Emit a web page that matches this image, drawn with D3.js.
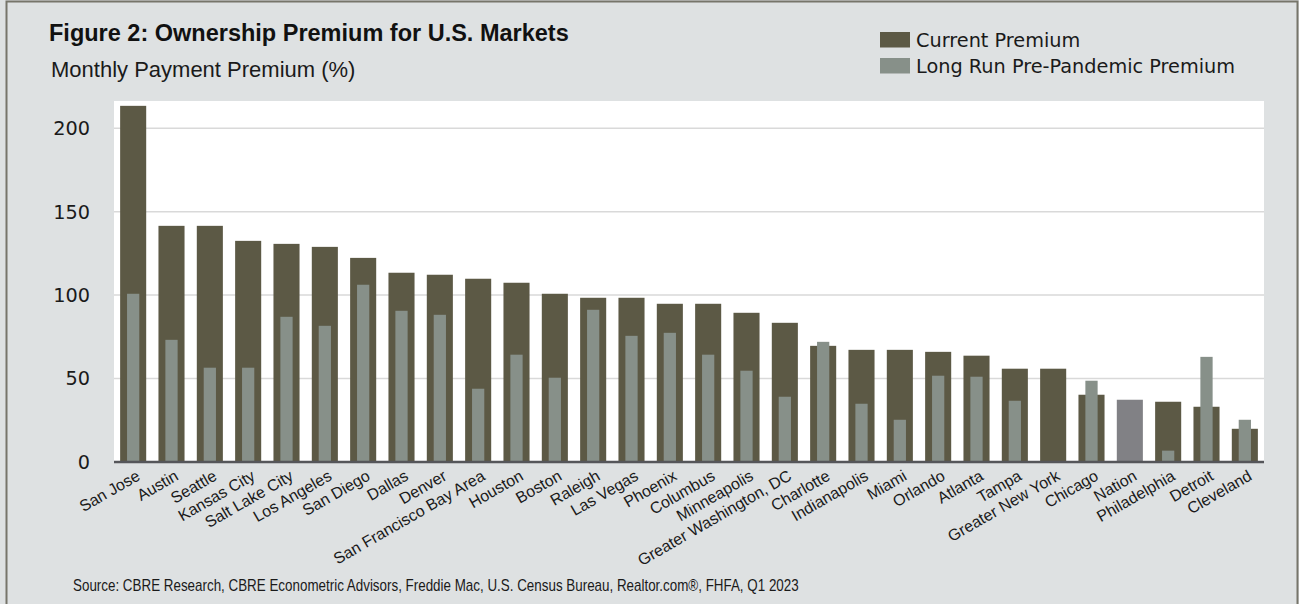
<!DOCTYPE html>
<html>
<head>
<meta charset="utf-8">
<script src="https://cdnjs.cloudflare.com/ajax/libs/d3/7.8.5/d3.min.js"></script>
<style>
  html, body { margin: 0; padding: 0; background: #dee1e2; }
  svg { display: block; }
</style>
</head>
<body>
<div id="chart"></div>
<script>
(function() {
  var markets = ["San Jose", "Austin", "Seattle", "Kansas City", "Salt Lake City", "Los Angeles", "San Diego",
    "Dallas", "Denver", "San Francisco Bay Area", "Houston", "Boston", "Raleigh", "Las Vegas", "Phoenix",
    "Columbus", "Minneapolis", "Greater Washington, DC", "Charlotte", "Indianapolis", "Miami", "Orlando",
    "Atlanta", "Tampa", "Greater New York", "Chicago", "Nation", "Philadelphia", "Detroit", "Cleveland"];
  var currentPremium = [213.4, 141.5, 141.5, 132.5, 130.7, 128.9, 122.3, 113.4, 112.2, 109.8, 107.4, 100.8,
    98.4, 98.4, 94.8, 94.8, 89.4, 83.4, 69.6, 67.2, 67.2, 66.0, 63.7, 55.9, 55.9, 40.3, 37.3, 36.1, 33.1, 19.9];
  var longRunPremium = [100.8, 73.2, 56.5, 56.5, 87.0, 81.6, 106.2, 90.6, 88.2, 43.9, 64.3, 50.5,
    91.2, 75.6, 77.4, 64.3, 54.7, 39.1, 72.0, 34.9, 25.3, 51.7, 51.1, 36.7, null, 48.7, null, 6.8, 63.0, 25.3];
  var yTicks = [0, 50, 100, 150, 200];
  var legendLabels = ["Current Premium", "Long Run Pre-Pandemic Premium"];

  var W = 1299, H = 604;
  var colCurrent = "#5c5945", colLong = "#879089", colNation = "#818185";

  var svg = d3.select("#chart").append("svg").attr("width", W).attr("height", H);

  svg.append("rect").attr("x", 0).attr("y", 0).attr("width", W).attr("height", H).style("fill", "#dee1e2");
  // frame
  svg.append("path").attr("d", "M6.5,604 V1.5 H1297.5 V604")
    .style("fill", "none").style("stroke", "#76756a").style("stroke-width", 2);

  var x = d3.scaleBand().domain(markets).range([114, 1264]).paddingInner(0.32).paddingOuter(0.16);
  var y = d3.scaleLinear().domain([0, 216.3]).range([462, 101]);

  svg.append("rect").attr("x", 114).attr("y", 101).attr("width", 1150).attr("height", 361).style("fill", "#fff");

  svg.selectAll("line.grid").data(yTicks.filter(function(d) { return d > 0; })).enter()
    .append("line").attr("class", "grid")
    .attr("x1", 114).attr("x2", 1264)
    .attr("y1", function(d) { return y(d); }).attr("y2", function(d) { return y(d); })
    .style("stroke", "#d9d9d9").style("stroke-width", 1.5);

  svg.selectAll("text.ytick").data(yTicks).enter()
    .append("text").attr("class", "ytick")
    .attr("x", 90).attr("y", function(d) { return y(d); }).attr("dy", "0.36em")
    .attr("text-anchor", "end")
    .style("font-family", "DejaVu Sans").style("font-size", "19.3px").style("fill", "#1a1a1a")
    .text(function(d) { return d; });

  var rows = markets.map(function(m, i) { return {name: m, cur: currentPremium[i], lr: longRunPremium[i]}; });

  svg.selectAll("rect.cur").data(rows).enter()
    .append("rect").attr("class", "cur")
    .attr("x", function(d) { return x(d.name); })
    .attr("width", x.bandwidth())
    .attr("y", function(d) { return y(d.cur); })
    .attr("height", function(d) { return y(0) - y(d.cur); })
    .style("fill", function(d) { return d.name == "Nation" ? colNation : colCurrent; });

  var lw = x.bandwidth() * 0.47;
  svg.selectAll("rect.lr").data(rows.filter(function(d) { return d.lr != null; })).enter()
    .append("rect").attr("class", "lr")
    .attr("x", function(d) { return x(d.name) + (x.bandwidth() - lw) / 2; })
    .attr("width", lw)
    .attr("y", function(d) { return y(d.lr); })
    .attr("height", function(d) { return y(0) - y(d.lr); })
    .style("fill", colLong);

  svg.append("line").attr("x1", 114).attr("x2", 1264).attr("y1", y(0)).attr("y2", y(0))
    .style("stroke", "#55565a").style("stroke-width", 2.5);

  svg.selectAll("text.xlab").data(markets).enter()
    .append("text").attr("class", "xlab")
    .attr("transform", function(d) { return "translate(" + (x(d) + x.bandwidth() / 2 + 8) + ",479) rotate(-30)"; })
    .attr("text-anchor", "end")
    .style("font-family", "Liberation Sans, Arial, sans-serif").style("font-size", "16px").style("fill", "#1a1a1a")
    .text(function(d) { return d; });

  // titles
  svg.append("text").attr("x", 49).attr("y", 41)
    .style("font-family", "Liberation Sans, Arial, sans-serif").style("font-weight", "bold")
    .style("font-size", "23.5px").style("fill", "#111")
    .text("Figure 2: Ownership Premium for U.S. Markets");
  svg.append("text").attr("x", 51).attr("y", 77)
    .style("font-family", "Liberation Sans, Arial, sans-serif")
    .style("font-size", "22px").style("fill", "#1a1a1a")
    .text("Monthly Payment Premium (%)");

  // legend
  var legend = svg.selectAll("g.legend").data(legendLabels).enter()
    .append("g").attr("class", "legend")
    .attr("transform", function(d, i) { return "translate(880," + (32 + i * 26) + ")"; });
  legend.append("rect").attr("width", 30).attr("height", 15.5)
    .style("fill", function(d, i) { return i == 0 ? colCurrent : colLong; });
  legend.append("text").attr("x", 36).attr("y", 15)
    .style("font-family", "DejaVu Sans").style("font-size", "19.3px").style("fill", "#1a1a1a")
    .text(function(d) { return d; });

  // source, condensed face
  var src = svg.append("text")
    .style("font-family", "Liberation Sans, Arial, sans-serif").style("font-size", "17px").style("fill", "#1a1a1a")
    .text("Source: CBRE Research, CBRE Econometric Advisors, Freddie Mac, U.S. Census Bureau, Realtor.com\u00ae, FHFA, Q1 2023");
  var sw = src.node().getComputedTextLength();
  src.attr("transform", "translate(73,591) scale(" + (726 / sw) + ",1)");
}());
</script>
</body>
</html>
